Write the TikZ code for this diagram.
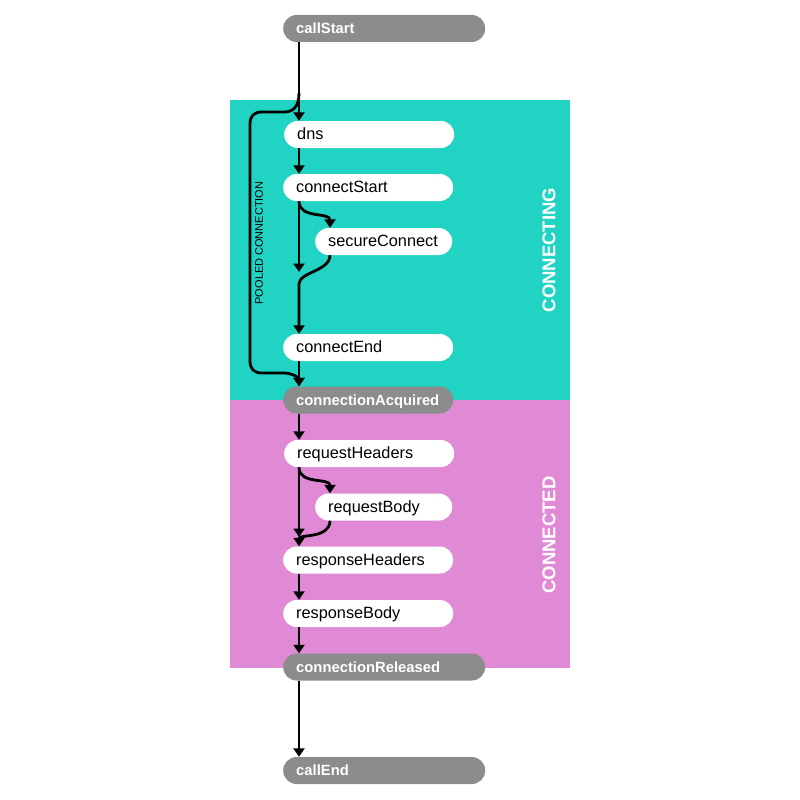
\documentclass[tikz,border=0pt]{standalone}
\usepackage{fontspec}
\setmainfont{Liberation Sans}
\usetikzlibrary{arrows.meta,calc}
\definecolor{connTeal}{HTML}{20D3C2}
\definecolor{connPink}{HTML}{E08AD6}
\definecolor{pillGray}{HTML}{8C8C8C}
\begin{document}
\begin{tikzpicture}[x=1pt,y=-1pt,
  pill/.style={rounded corners=13.4pt, minimum height=27pt, inner xsep=13pt, inner ysep=0pt,
    anchor=west, align=left, text height=12pt, text depth=2pt},
  graypill/.style={pill, fill=pillGray, text=white, font=\bfseries\fontsize{14.8}{14.8}\selectfont},
  whitepill/.style={pill, fill=white, text=black, font=\fontsize{16.3}{16.3}\selectfont},
  wide/.style={text width=176pt},
  mid/.style={text width=144pt},
  narrow/.style={text width=111pt},
  flowline/.style={line width=2.8pt, draw=black},
  flow/.style={flowline, -{Triangle[width=11pt,length=8.5pt]}},
  phase/.style={rotate=90, text=white, font=\bfseries\fontsize{18.5}{18.5}\selectfont},
]
\useasboundingbox (0,0) rectangle (800,800);
\fill[connTeal] (230,100) rectangle (570,400);
\fill[connPink] (230,400) rectangle (570,668);

\node[phase] (lconn) at (549,250) {CONNECTING};
\node[phase] (lconnd) at (549,535) {CONNECTED};
\node[rotate=90, font=\fontsize{11}{11}\selectfont] (lpool) at (259,243) {POOLED CONNECTION};

\node[graypill, wide] (start) at (283,28.5) {callStart};
\node[whitepill, mid] (dns) at (284,134.5) {dns};
\node[whitepill, mid] (cs) at (283,187.5) {connectStart};
\node[whitepill, narrow] (sc) at (315,241.5) {secureConnect};
\node[whitepill, mid] (ce) at (283,347.5) {connectEnd};
\node[graypill, mid] (acq) at (283,400) {connectionAcquired};
\node[whitepill, mid] (rh) at (284,453.5) {requestHeaders};
\node[whitepill, narrow] (rb) at (315,507) {requestBody};
\node[whitepill, mid] (rsh) at (283,560) {responseHeaders};
\node[whitepill, mid] (rsb) at (283,613.5) {responseBody};
\node[graypill, wide] (rel) at (283,667) {connectionReleased};
\node[graypill, wide] (end) at (283,770.5) {callEnd};

\coordinate (spine) at (299,0);
\coordinate (branch) at (299,93);
\coordinate (scIn) at ([xshift=15pt]sc.north west);
\coordinate (scOut) at ([xshift=15pt]sc.south west);
\coordinate (rbIn) at ([xshift=15pt]rb.north west);
\coordinate (rbOut) at ([xshift=15pt]rb.south west);
\coordinate (merge1) at (299,272);
\coordinate (join1) at (299,284);
\coordinate (merge2) at (299,537);

% main spine
\draw[flow] (spine |- start.south) -- (spine |- dns.north);
\draw[flow] (spine |- dns.south) -- (spine |- cs.north);
\draw[flow] (spine |- cs.south) -- (merge1);
\draw[flow] (spine |- cs.south) .. controls +(0,18) and +(0,-16) .. (scIn);
\draw[flow] (scOut) .. controls +(0,16) and +(0,-12) .. (join1) -- (spine |- ce.north);
\draw[flow] (spine |- ce.south) -- (spine |- acq.north);

% pooled connection
\draw[flow] (branch) .. controls +(0,14) and +(9,0) .. (284,112) -- (262,112)
  .. controls +(-8,0) and +(0,-8) .. (250,124) -- (250,361)
  .. controls +(0,8) and +(-8,0) .. (262,373) -- (284,373)
  .. controls +(9,0) and +(0,-8) .. (spine |- acq.north);

\draw[flow] (spine |- acq.south) -- (spine |- rh.north);
\draw[flow] (spine |- rh.south) -- (merge2);
\draw[flow] (spine |- rh.south) .. controls +(0,18) and +(0,-16) .. (rbIn);
\draw[flow] (rbOut) .. controls +(0,18) and +(0,-12) .. (spine |- rsh.north);
\draw[flow] (spine |- rsh.south) -- (spine |- rsb.north);
\draw[flow] (spine |- rsb.south) -- (spine |- rel.north);
\draw[flow] (spine |- rel.south) -- (spine |- end.north);
\end{tikzpicture}
\end{document}
